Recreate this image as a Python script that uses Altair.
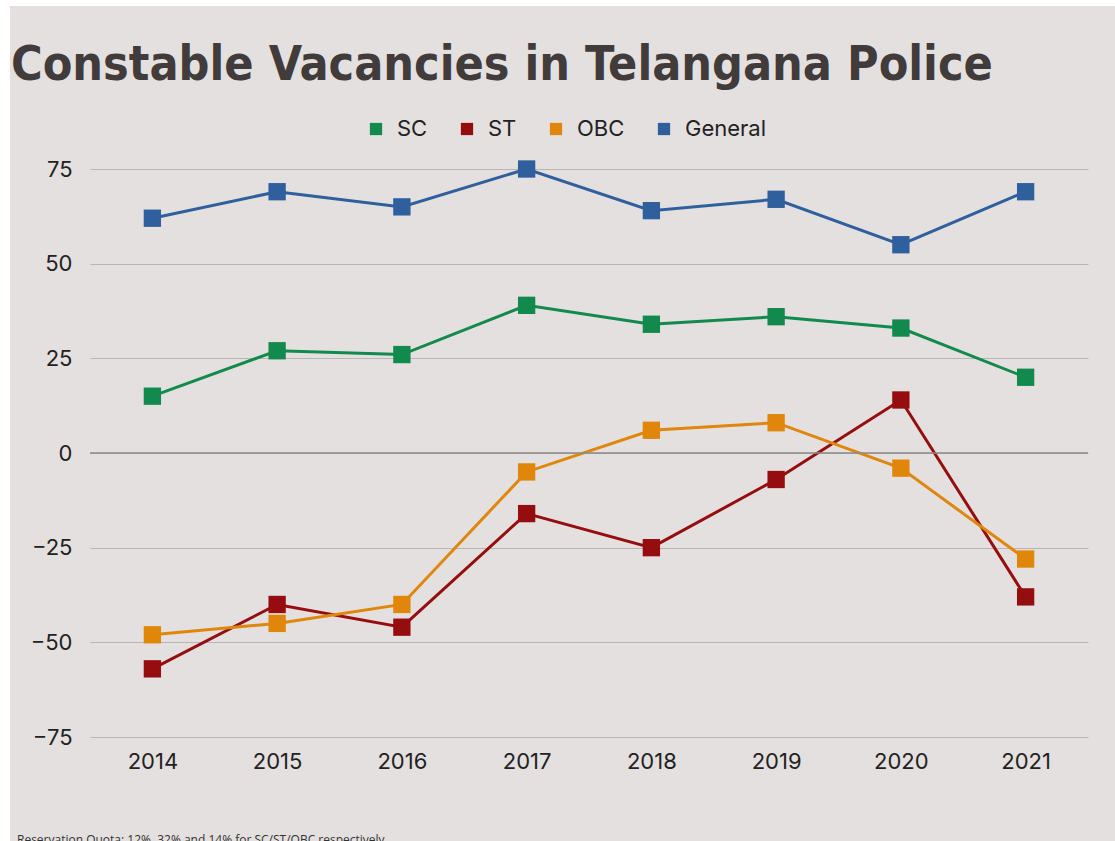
import altair as alt
import pandas as pd

years = ["2014", "2015", "2016", "2017", "2018", "2019", "2020", "2021"]
sc = [15, 27, 26, 39, 34, 36, 33, 20]
st = [-57, -40, -46, -16, -25, -7, 14, -38]
obc = [-48, -45, -40, -5, 6, 8, -4, -28]
general = [62, 69, 65, 75, 64, 67, 55, 69]

series_names = ["SC", "ST", "OBC", "General"]
series_colors = ["#128a4e", "#960d10", "#df860b", "#2f5f9c"]
y_ticks = [-75, -50, -25, 0, 25, 50, 75]

title_text = "Constable Vacancies in Telangana Police"
note_text = "Reservation Quota: 12%, 32% and 14% for SC/ST/OBC respectively"

rows = []
for name, vals in zip(series_names, [sc, st, obc, general]):
    for y, v in zip(years, vals):
        rows.append({"Year": y, "Series": name, "Value": v})
df = pd.DataFrame(rows)

W, H = 998, 568
FONT = "Inter"
LBL = 22

one = pd.DataFrame({"a": [0]})

strip_top = alt.Chart(one).mark_rect(color="#ffffff").encode(
    x=alt.value(-90), x2=alt.value(1030), y=alt.value(-169), y2=alt.value(-163)
)
strip_left = alt.Chart(one).mark_rect(color="#ffffff").encode(
    x=alt.value(-90), x2=alt.value(-80), y=alt.value(-169), y2=alt.value(680)
)

xenc = alt.X("Year:O", scale=alt.Scale(domain=years, paddingOuter=0.5),
             axis=alt.Axis(title=None, labelAngle=0, labelFontSize=LBL, labelColor="#222222",
                           labelFont=FONT, domain=False, ticks=False, labelPadding=14, grid=False))
yenc = alt.Y("Value:Q", scale=alt.Scale(domain=[-75, 75], nice=False, zero=False),
             axis=alt.Axis(title=None, values=y_ticks, labelFontSize=LBL, labelColor="#222222",
                           labelFont=FONT, domain=False, ticks=False, labelPadding=18,
                           grid=True, gridColor="#b8b5b4", gridWidth=1.2))
cenc = alt.Color("Series:N", scale=alt.Scale(domain=series_names, range=series_colors),
                 legend=alt.Legend(title=None, orient="none", direction="horizontal",
                                   legendX=275, legendY=-51, symbolType="square",
                                   symbolSize=150, symbolStrokeWidth=0, labelFontSize=LBL,
                                   labelFont=FONT, labelColor="#222222", labelOffset=10,
                                   columnPadding=28, symbolOpacity=1))

base = alt.Chart(df)
lines = base.mark_line(strokeWidth=3).encode(x=xenc, y=yenc, color=cenc, detail="Series:N")
pts = base.mark_point(shape="square", filled=True, size=300, opacity=1).encode(
    x="Year:O", y="Value:Q", color=alt.Color("Series:N", legend=None))

zero = alt.Chart(pd.DataFrame({"v": [0]})).mark_rule(color="#8c8a8a", strokeWidth=1.5).encode(
    y=alt.Y("v:Q"), x=alt.value(0), x2=alt.value(W))

title = alt.Chart(one).mark_text(text=title_text, font="DejaVu Sans Condensed", fontWeight="bold",
                                 fontSize=48, color="#413b3b", align="left",
                                 baseline="alphabetic").encode(
    x=alt.value(-79), y=alt.value(-89))

note = alt.Chart(one).mark_text(text=note_text, font="Open Sans", fontSize=12, color="#333333",
                                align="left", baseline="alphabetic").encode(
    x=alt.value(-73), y=alt.value(675))

chart = alt.layer(lines, zero, pts, strip_top, strip_left, title, note).properties(
    width=W, height=H, padding={"left": 90, "top": 169, "right": 27, "bottom": 104},
    autosize=alt.AutoSizeParams(type="none")
).configure(background="#e4e0df").configure_view(stroke=None)

chart.save("out.html", embed_options={"renderer": "svg", "actions": False})
